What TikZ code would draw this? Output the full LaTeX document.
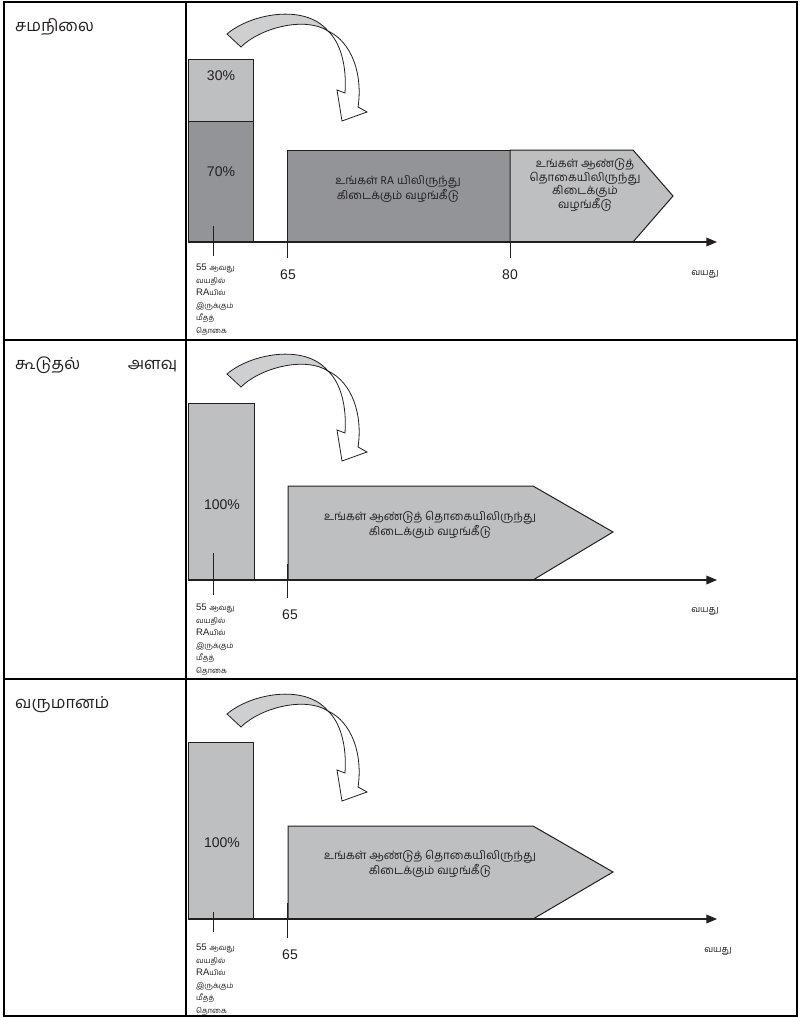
\documentclass[tikz,border=0pt]{standalone}
\usepackage{fontspec}
\setmainfont{Liberation Sans}
\newfontfamily\tam[Script=Tamil]{Hind Madurai}
\usepackage{tikz}
\usetikzlibrary{arrows}

\definecolor{lightgr}{RGB}{190,191,193}
\definecolor{darkgr}{RGB}{147,148,151}
\definecolor{ribbongr}{RGB}{206,207,209}
\definecolor{inkgr}{RGB}{35,31,32}

\tikzset{
  grid line/.style={line width=1.2pt, draw=black},
  bar/.style={draw=inkgr, line width=1pt, anchor=north west, inner sep=0pt},
  arrowbox/.style={draw=inkgr, line width=1pt},
  pct/.style={text=inkgr, font=\fontsize{14}{14}\selectfont},
  age/.style={text=inkgr, font=\fontsize{14}{14}\selectfont},
  axis/.style={draw=inkgr, line width=1.5pt, -triangle 45},
  tickmark/.style={draw=inkgr, line width=0.8pt},
  rowlabel/.style={anchor=west, inner sep=0pt, text=inkgr, font=\tam\fontsize{16.5}{16.5}\selectfont},
  boxtext/.style={align=center, text=inkgr, font=\tam\fontsize{11.5}{13.5}\selectfont},
  agelabel/.style={text=inkgr, font=\tam\fontsize{9}{9}\selectfont},
  smalltext/.style={anchor=north west, align=left, inner sep=0pt, text=inkgr,
    font=\fontsize{9.5}{12.5}\selectfont},
  ribbon/.style={draw=inkgr, line width=0.8pt},
}
\newcommand{\ts}[1]{{\tam\fontsize{7.5}{12.5}\selectfont #1}}

% twisted arrow above each panel
\newcommand{\swoosh}{%
  \filldraw[ribbon, fill=ribbongr] (227,34) .. controls (250,14) and (305,3) .. (328,31)
    .. controls (305,16) and (260,28) .. (241,47) -- cycle;
  \filldraw[ribbon, fill=white] (328,31) .. controls (340,42) and (347,65) .. (345,93)
    -- (337,90) -- (342,121) -- (367,112) -- (358,107)
    .. controls (363,75) and (352,42) .. (328,31) -- cycle;
}
% small label under the first tick
\newcommand{\leftover}[1]{%
  \node[smalltext] (#1) at (196,264) {55 \ts{ஆவது}\\ \ts{வயதில்}\\ RA\ts{யில்}\\
    \ts{இருக்கும்}\\ \ts{மீதத்}\\ \ts{தொகை}};
}

\begin{document}
\begin{tikzpicture}[x=1pt, y=-1pt]
\useasboundingbox (0,0) rectangle (801,1017);

% table
\draw[grid line] (4,2) rectangle (797,1016);
\draw[grid line] (186,2) -- (186,1016);
\draw[grid line] (4,340) -- (797,340);
\draw[grid line] (4,679) -- (797,679);

% ---- row 1 ----
\node[rowlabel] (bal) at (15,27) {சமநிலை};
\swoosh
\node[bar, fill=lightgr, minimum width=65pt, minimum height=62pt] (hi1) at (188,59) {};
\node[bar, fill=darkgr, minimum width=65pt, minimum height=121pt] (lo1) at (188,121) {};
\node[pct] (p30) at (221,76) {30\%};
\node[pct] (p70) at (221,172) {70\%};
\node[bar, fill=darkgr, minimum width=223pt, minimum height=92pt] (ra1) at (287,150) {};
\filldraw[arrowbox, fill=lightgr] (510,150) -- (633,150) -- (673,196) -- (633,242)
  -- (510,242) -- cycle;
\node[boxtext] (ratxt) at (398,189) {உங்கள் RA யிலிருந்து\\ கிடைக்கும் வழங்கீடு};
\node[boxtext] (an1) at (585,185) {உங்கள் ஆண்டுத்\\ தொகையிலிருந்து\\ கிடைக்கும்\\ வழங்கீடு};
\coordinate (o1) at (188,242);
\coordinate (e1) at (717,242);
\draw[axis] (o1) -- (e1);
\draw[tickmark] (213,226) -- (213,256);
\draw[tickmark] (287,228) -- (287,258);
\draw[tickmark] (510,242) -- (510,258);
\node[age] (s65a) at (288,275) {65};
\node[age] (s80a) at (510,275) {80};
\node[agelabel] (yr1) at (705,274) {வயது};
\leftover{rest1}

% ---- row 2 ----
\begin{scope}[shift={(0,340)}]
\node[rowlabel, text width=162pt] (top) at (15,25) {கூடுதல்\hfill அளவு};
\swoosh
\node[bar, fill=lightgr, minimum width=66pt, minimum height=177pt] (all2) at (188,63) {};
\node[pct] (p100b) at (222,165) {100\%};
\filldraw[arrowbox, fill=lightgr] (288,146) -- (533,146) -- (613,192) -- (533,240)
  -- (288,240) -- cycle;
\node[boxtext] (an2) at (430,185) {உங்கள் ஆண்டுத் தொகையிலிருந்து\\ கிடைக்கும் வழங்கீடு};
\coordinate (o2) at (188,240);
\coordinate (e2) at (717,240);
\draw[axis] (o2) -- (e2);
\draw[tickmark] (213,213) -- (213,255);
\draw[tickmark] (287,224) -- (287,258);
\node[age] (s65b) at (290,275) {65};
\node[agelabel] (yr2) at (705,271) {வயது};
\leftover{rest2}
\end{scope}

% ---- row 3 ----
\begin{scope}[shift={(0,680)}]
\node[rowlabel] (inc) at (15,25) {வருமானம்};
\swoosh
\node[bar, fill=lightgr, minimum width=65pt, minimum height=177pt] (all3) at (188,62) {};
\node[pct] (p100c) at (222,163) {100\%};
\filldraw[arrowbox, fill=lightgr] (288,146) -- (533,146) -- (613,192) -- (533,239)
  -- (288,239) -- cycle;
\node[boxtext] (an3) at (430,184) {உங்கள் ஆண்டுத் தொகையிலிருந்து\\ கிடைக்கும் வழங்கீடு};
\coordinate (o3) at (188,239);
\coordinate (e3) at (717,239);
\draw[axis] (o3) -- (e3);
\draw[tickmark] (213,232) -- (213,252);
\draw[tickmark] (287,223) -- (287,258);
\node[age] (s65c) at (290,275) {65};
\node[agelabel] (yr3) at (718,271) {வயது};
\leftover{rest3}
\end{scope}
\end{tikzpicture}
\end{document}
